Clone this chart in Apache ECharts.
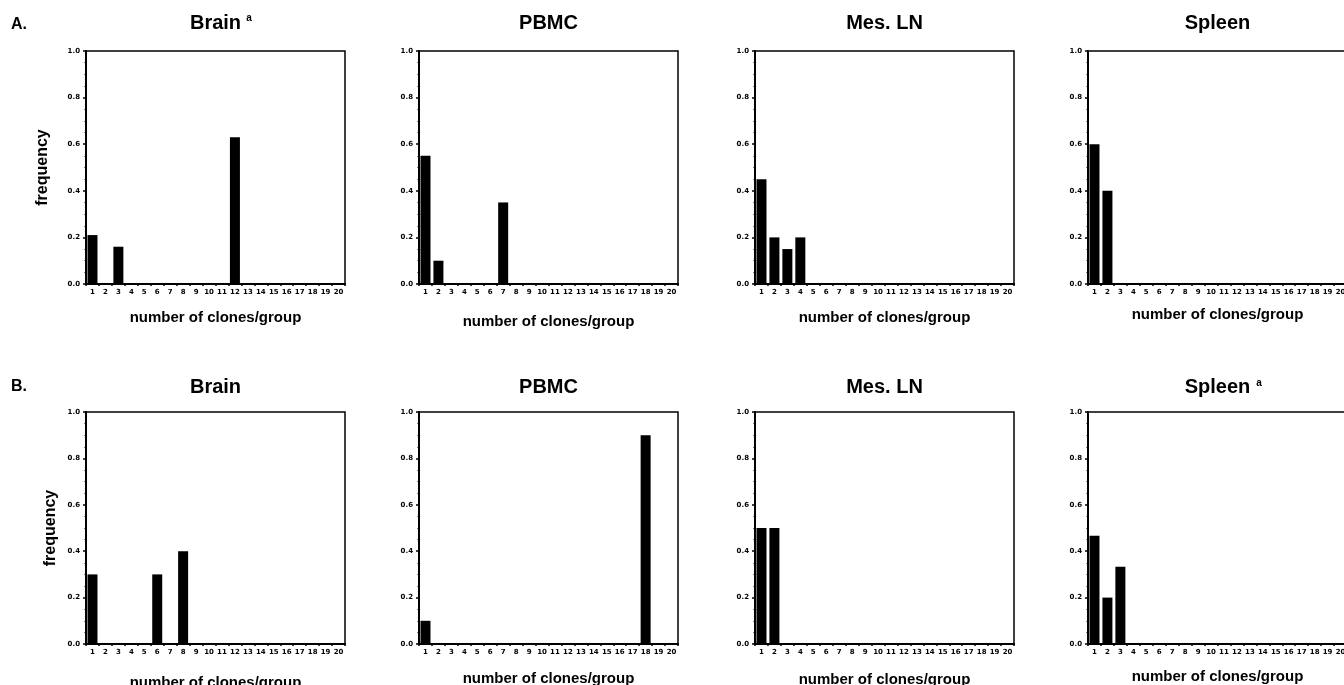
<!DOCTYPE html>
<html>
<head>
    <meta charset="utf-8">
    <title>number of clones/group</title>
    <script src="https://cdn.jsdelivr.net/npm/echarts@6/dist/echarts.min.js"></script>
    <style>
        html, body { margin: 0; padding: 0; background: #fff; }
        #main { width: 1344px; height: 685px; }
    </style>
</head>
<body>
    <div id="main"></div>
    <script>
        // 数据
        const clones = ['1', '2', '3', '4', '5', '6', '7', '8', '9', '10',
                        '11', '12', '13', '14', '15', '16', '17', '18', '19', '20'];
        const yTicks = [0.0, 0.2, 0.4, 0.6, 0.8, 1.0];

        const panelTitles = ['Brain', 'PBMC', 'Mes. LN', 'Spleen', 'Brain', 'PBMC', 'Mes. LN', 'Spleen'];
        const superscript = ['a', '', '', '', '', '', '', 'a'];
        const rowLabels = ['A.', 'B.'];

        const brainA  = [0.21, 0, 0.16, 0, 0, 0, 0, 0, 0, 0, 0, 0.63, 0, 0, 0, 0, 0, 0, 0, 0];
        const pbmcA   = [0.55, 0.10, 0, 0, 0, 0, 0.35, 0, 0, 0, 0, 0, 0, 0, 0, 0, 0, 0, 0, 0];
        const mesLnA  = [0.45, 0.20, 0.15, 0.20, 0, 0, 0, 0, 0, 0, 0, 0, 0, 0, 0, 0, 0, 0, 0, 0];
        const spleenA = [0.60, 0.40, 0, 0, 0, 0, 0, 0, 0, 0, 0, 0, 0, 0, 0, 0, 0, 0, 0, 0];
        const brainB  = [0.30, 0, 0, 0, 0, 0.30, 0, 0.40, 0, 0, 0, 0, 0, 0, 0, 0, 0, 0, 0, 0];
        const pbmcB   = [0.10, 0, 0, 0, 0, 0, 0, 0, 0, 0, 0, 0, 0, 0, 0, 0, 0, 0.90, 0, 0];
        const mesLnB  = [0.50, 0.50, 0, 0, 0, 0, 0, 0, 0, 0, 0, 0, 0, 0, 0, 0, 0, 0, 0, 0];
        const spleenB = [0.467, 0.20, 0.333, 0, 0, 0, 0, 0, 0, 0, 0, 0, 0, 0, 0, 0, 0, 0, 0, 0];

        const panelData = [brainA, pbmcA, mesLnA, spleenA, brainB, pbmcB, mesLnB, spleenB];

        // 布局
        const colLeft = [86, 419, 755, 1088];
        const rowTop = [51, 412];
        const rowHeight = [233, 232];
        const plotWidth = 259;
        const xNameGap = [26, 30, 26, 23, 31, 27, 28, 25];
        const yNameGap = [35, 27];
        const titleY = [23, 387];
        const supX = [249, 0, 0, 0, 0, 0, 0, 1259];
        const supY = [18, 0, 0, 0, 0, 0, 0, 383];

        const FONT = '"Liberation Sans", Arial, Helvetica, sans-serif';
        const TICKFONT = '"DejaVu Sans", sans-serif';

        const chart = echarts.init(document.getElementById('main'), null, { renderer: 'canvas' });

        const grids = [], xAxes = [], yAxes = [], series = [], graphics = [];

        panelData.forEach(function (vals, i) {
            const row = Math.floor(i / 4), col = i % 4;
            const left = colLeft[col], top = rowTop[row];
            grids.push({
                left: left, top: top, width: plotWidth, height: rowHeight[row],
                containLabel: false, outerBoundsMode: 'none',
                show: true, borderColor: '#000', borderWidth: 1.5, backgroundColor: '#fff'
            });
            xAxes.push({
                type: 'category', gridIndex: i, data: clones,
                boundaryGap: true,
                axisLine: { lineStyle: { color: '#000', width: 2 } },
                axisTick: { show: true, length: 2, lineStyle: { color: '#000', width: 1.5 } },
                axisLabel: { interval: 0, fontSize: 7, fontWeight: 'bold', fontFamily: TICKFONT, color: '#000', margin: 5 },
                splitLine: { show: false },
                name: 'number of clones/group',
                nameLocation: 'middle',
                nameGap: xNameGap[i],
                nameTextStyle: { fontSize: 15, fontWeight: 'bold', fontFamily: FONT, color: '#000' }
            });
            yAxes.push({
                type: 'value', gridIndex: i, min: 0, max: 1, interval: 0.2,
                axisLine: { show: true, lineStyle: { color: '#000', width: 2 } },
                axisTick: { show: true, length: 3, lineStyle: { color: '#000', width: 1.5 } },
                minorTick: { show: true, splitNumber: 4, length: 1.5, lineStyle: { color: '#000', width: 1 } },
                axisLabel: {
                    fontSize: 7, fontWeight: 'bold', fontFamily: TICKFONT, color: '#000', margin: 6,
                    formatter: function (v) { return yTicks.indexOf(+v.toFixed(1)) >= 0 ? v.toFixed(1) : ''; }
                },
                splitLine: { show: false },
                name: col === 0 ? 'frequency' : '',
                nameLocation: 'middle',
                nameGap: yNameGap[row],
                nameTextStyle: { fontSize: 16, fontWeight: 'bold', fontFamily: FONT, color: '#000' }
            });
            series.push({
                type: 'bar', xAxisIndex: i, yAxisIndex: i, data: vals,
                barWidth: 10, itemStyle: { color: '#000' }, silent: true
            });
            graphics.push({
                type: 'text', x: left + plotWidth / 2, y: titleY[row],
                style: {
                    text: panelTitles[i], fill: '#000', textAlign: 'center', textVerticalAlign: 'middle',
                    font: 'bold 20px ' + FONT
                }
            });
            if (superscript[i]) {
                graphics.push({
                    type: 'text', x: supX[i], y: supY[i],
                    style: {
                        text: superscript[i], fill: '#000', textAlign: 'center', textVerticalAlign: 'middle',
                        font: 'bold 10px ' + FONT
                    }
                });
            }
        });

        rowLabels.forEach(function (t, r) {
            graphics.push({
                type: 'text', x: 11, y: [25, 387][r],
                style: { text: t, fill: '#000', textAlign: 'left', textVerticalAlign: 'middle', font: 'bold 16px ' + FONT }
            });
        });

        chart.setOption({
            backgroundColor: '#fff',
            animation: false,
            grid: grids,
            xAxis: xAxes,
            yAxis: yAxes,
            series: series,
            graphic: graphics
        });
    </script>
</body>
</html>
